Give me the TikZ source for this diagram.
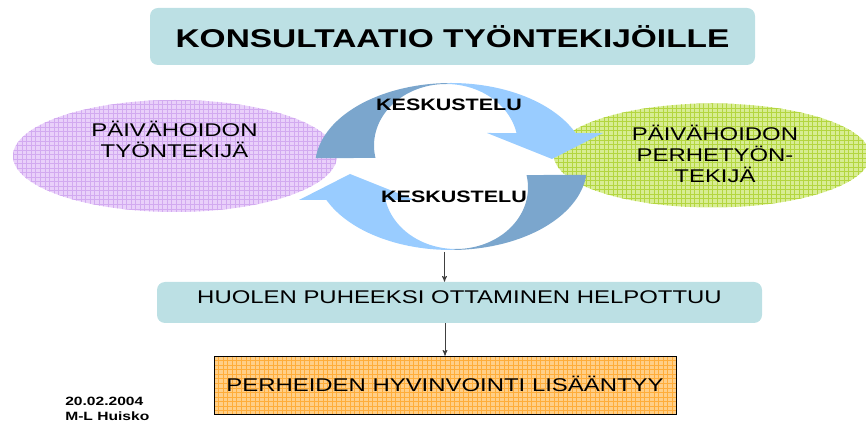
\documentclass[tikz,border=0pt]{standalone}
\usepackage{fontspec}
\setmainfont[FakeStretch=1.3]{Liberation Sans}
\usepackage{tikz}
\usetikzlibrary{arrows}
\usetikzlibrary{shapes.geometric,positioning}

\definecolor{tealbox}{HTML}{BCE0E4}
\definecolor{lilacfill}{HTML}{E9D0FA}
\definecolor{lilacgrid}{HTML}{D2AAF0}
\definecolor{greenfill}{HTML}{D8ED94}
\definecolor{greengrid}{HTML}{B4D640}
\definecolor{orangefill}{HTML}{FFCF88}
\definecolor{orangegrid}{HTML}{FFAD3A}
\definecolor{ringdark}{HTML}{7BA6CD}
\definecolor{ringlight}{HTML}{99CCFF}

\newcommand{\boxfont}{\fontsize{13.8pt}{15.5pt}\selectfont}
\newcommand{\headfont}{\bfseries\fontsize{19.3pt}{22pt}\selectfont}
\newcommand{\ringfont}{\bfseries\fontsize{12.4pt}{14pt}\selectfont}

\begin{document}
\begin{tikzpicture}[x=0.75pt,y=-0.75pt,>=stealth',inner sep=0pt,
		gridded/.style={path picture={
			\foreach \k in {0,...,105}{
				\draw[#1,line width=0.35pt]
				([xshift=\k*3.4pt]path picture bounding box.north west) --
				([xshift=\k*3.4pt]path picture bounding box.south west)
				([yshift=-\k*3.4pt]path picture bounding box.north west) --
				([yshift=-\k*3.4pt]path picture bounding box.north east);
			}}}]
		\tikzstyle{tealbox}=[draw=none,fill=tealbox,rounded corners=6pt,minimum width=453.75pt]
		\tikzstyle{bubble}=[ellipse,draw=none]
		\tikzstyle{down}=[->,draw=black!75,line width=0.6pt]
		\useasboundingbox (0,0) rectangle (866,423);
		
		\node[tealbox,minimum height=42.75pt,font=\headfont] (title) at (452.5,36.5) {KONSULTAATIO TYÖNTEKIJÖILLE};
		
		\node[bubble,fill=lilacfill,gridded=lilacgrid,minimum width=243pt,minimum height=84pt] (wrk) at (175,156) {};
		\node[font=\boxfont,align=center] (wrktxt) at (174.5,139.5) {PÄIVÄHOIDON\\TYÖNTEKIJÄ};
		
		\node[bubble,fill=greenfill,gridded=greengrid,minimum width=237pt,minimum height=78pt] (fam) at (712,155.5) {};
		\node[font=\boxfont,align=center] (famtxt) at (715,154) {PÄIVÄHOIDON\\PERHETYÖN-\\TEKIJÄ};
		
		% kierto
		\fill[ringdark] plot[domain=185.8:270,samples=40] ({451+136*cos(\x)},{166.5+83.5*sin(\x)})
			-- plot[domain=270:168.3,samples=40] ({446+72*cos(\x)},{145.5+61.5*sin(\x)}) -- cycle;
		\fill[ringlight] plot[domain=270:336.4,samples=40] ({451+136*cos(\x)},{166.5+83.5*sin(\x)})
			-- (603,133) -- (552,159) -- (487,133)
			-- plot[domain=348.3:270,samples=40] ({446+72*cos(\x)},{145.5+61.5*sin(\x)}) -- cycle;
		\fill[ringdark] plot[domain=5.8:90,samples=40] ({451+136*cos(\x)},{166.5+83.5*sin(\x)})
			-- plot[domain=90:-11.7,samples=40] ({456+72*cos(\x)},{187.5+61.5*sin(\x)}) -- cycle;
		\fill[ringlight] plot[domain=90:156.4,samples=40] ({451+136*cos(\x)},{166.5+83.5*sin(\x)})
			-- (299,200) -- (350,174) -- (415,200)
			-- plot[domain=168.3:90,samples=40] ({456+72*cos(\x)},{187.5+61.5*sin(\x)}) -- cycle;
		
		\node[font=\ringfont] (talk1) at (449,105) {KESKUSTELU};
		\node[font=\ringfont] (talk2) at (454,197) {KESKUSTELU};
		\coordinate (ringbot) at (444.5,252);
		
		\node[tealbox,minimum height=30.75pt,font=\boxfont,text height=10pt,text depth=9pt] (huolen) at (459.5,302.5) {HUOLEN PUHEEKSI OTTAMINEN HELPOTTUU};
		\node[draw=black,fill=orangefill,gridded=orangegrid,minimum width=346.5pt,minimum height=43.5pt,
			font=\boxfont,text height=10pt,text depth=0pt] (perheet) at (445,385) {PERHEIDEN HYVINVOINTI LISÄÄNTYY};
		
		\node[font=\bfseries\fontsize{9pt}{11.5pt}\selectfont,align=left,anchor=north west] (datum) at (65,397) {20.02.2004\\M-L Huisko};
		
		\draw[down] (ringbot) -- (huolen.north -| ringbot);
		\draw[down] (huolen.south -| perheet.north) -- (perheet.north);
		
\end{tikzpicture}
\end{document}
